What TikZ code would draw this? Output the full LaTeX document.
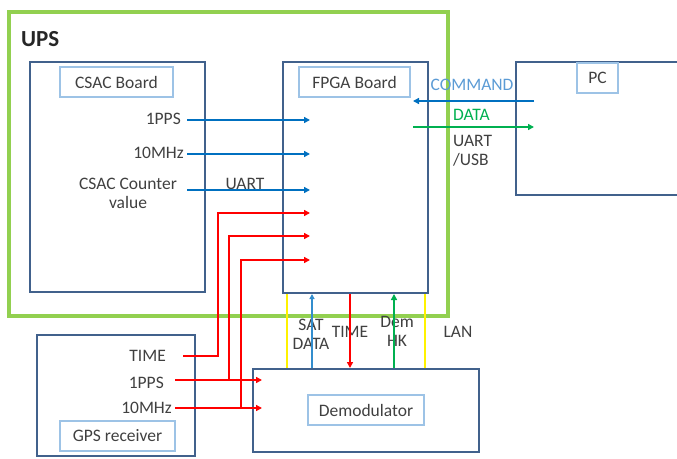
\documentclass[tikz,border=0pt]{standalone}
\usepackage{fontspec}
\setmainfont{Carlito}
\usetikzlibrary{arrows.meta}
\definecolor{boxblue}{HTML}{41618C}
\definecolor{labblue}{HTML}{9DC3E6}
\definecolor{sigblue}{HTML}{0070C0}
\definecolor{cmdblue}{HTML}{5B9BD5}
\definecolor{upsgreen}{HTML}{92D050}
\definecolor{siggreen}{HTML}{00B050}
\definecolor{txt}{HTML}{404040}
\tikzset{
  board/.style={draw=boxblue, line width=2.2pt, inner sep=0pt},
  lab/.style={draw=labblue, line width=1.3pt, minimum height=30pt, inner sep=0pt, text=txt, font=\fontsize{17.5}{18}\selectfont},
  sig/.style={text=txt, font=\fontsize{17.5}{19}\selectfont, inner sep=0pt},
  tip/.style={-{Triangle[length=6pt,width=6pt]}},
  bluearrow/.style={draw=sigblue, line width=2pt, tip},
  redarrow/.style={draw=red, line width=2.6pt, tip},
}
\begin{document}
\begin{tikzpicture}[x=1pt,y=-1pt]
\useasboundingbox (0,0) rectangle (677,458);
% UPS frame
\node[draw=upsgreen, line width=4pt, minimum width=439pt, minimum height=304pt, inner sep=0pt] (ups) at (228.5,164) {};
\node[anchor=west, inner sep=0pt, text=black!85, font=\fontsize{23}{24}\selectfont\bfseries] (upslab) at (21,39) {UPS};
% boards
\node[board, minimum width=175pt, minimum height=230pt] (csac) at (117.5,177) {};
\node[board, minimum width=145pt, minimum height=231pt] (fpga) at (355.5,177.5) {};
\node[board, minimum width=174pt, minimum height=133pt] (pc) at (603,128.5) {};
\node[board, minimum width=158pt, minimum height=121pt] (gps) at (116,395.5) {};
\node[board, minimum width=226pt, minimum height=83pt] (demod) at (366,410.5) {};
% label boxes
\node[lab, minimum width=113pt] (csaclab) at (116.5,82) {CSAC Board};
\node[lab, minimum width=111pt] (fpgalab) at (354.5,82) {FPGA Board};
\node[lab, minimum width=41pt] (pclab) at (597.5,78) {PC};
\node[lab, minimum width=115pt] (gpslab) at (117.5,436) {GPS receiver};
\node[lab, minimum width=116pt] (demodlab) at (366,410) {Demodulator};
% CSAC signal labels
\node[sig, anchor=east] (pps1) at (181,119) {1PPS};
\node[sig, anchor=east] (mhz1) at (184,153) {10MHz};
\node[sig, align=center] (cnt) at (128,193) {CSAC Counter\\value};
\node[sig] (uart1) at (245,184) {UART};
% GPS signal labels
\node[sig, anchor=east] (gtime) at (166,356) {TIME};
\node[sig, anchor=east] (gpps) at (164,383) {1PPS};
\node[sig, anchor=east] (gmhz) at (172,408) {10MHz};
% PC link labels
\node[sig, text=cmdblue] (cmd) at (472,85) {COMMAND};
\node[sig, text=siggreen, anchor=west] (datal) at (453,115) {DATA};
\node[sig, anchor=west, align=left] (uartusb) at (453,151) {UART\\/USB};
% vertical link labels
\node[sig, align=center] (satdata) at (311,334) {SAT\\DATA};
\node[sig] (timel) at (350,332) {TIME};
\node[sig, align=center] (demhk) at (397,331) {Dem\\HK};
\node[sig] (lan) at (458,332) {LAN};
% coordinates
\coordinate (a1s) at (187,120); \coordinate (a1e) at (310,120);
\coordinate (a2s) at (187,154); \coordinate (a2e) at (310,154);
\coordinate (a3s) at (187,190); \coordinate (a3e) at (310,190);
\coordinate (r1e) at (310,213); \coordinate (r2e) at (310,236); \coordinate (r3e) at (310,260);
\coordinate (tS) at (183,356);
\coordinate (pS) at (175,380); \coordinate (pE) at (262,380);
\coordinate (mS) at (175,408); \coordinate (mE) at (262,408);
\coordinate (cmdS) at (534,101); \coordinate (cmdE) at (413,101);
\coordinate (datS) at (413,127); \coordinate (datE) at (534,127);
% CSAC -> FPGA
\draw[bluearrow] (a1s) -- (a1e);
\draw[bluearrow] (a2s) -- (a2e);
\draw[bluearrow] (a3s) -- (a3e);
% GPS -> FPGA / Demod
\draw[redarrow] (tS) -- (218,356) -- (218,213) -- (r1e);
\draw[redarrow] (pS) -- (pE);
\draw[redarrow] (229,380) -- (229,236) -- (r2e);
\draw[redarrow] (mS) -- (mE);
\draw[redarrow] (241,408) -- (241,260) -- (r3e);
% FPGA <-> PC
\draw[draw=sigblue, line width=2.2pt, tip] (cmdS) -- (cmdE);
\draw[draw=siggreen, line width=2.2pt, tip] (datS) -- (datE);
% FPGA <-> Demod
\draw[draw=yellow, line width=2pt] (287,293) -- (287,369);
\draw[draw=sigblue!80, line width=1.5pt, -{Triangle[length=5pt,width=5pt]}] (312,369) -- (312,294);
\draw[redarrow] (350,294) -- (350,368);
\draw[draw=siggreen, line width=2pt, tip] (394,369) -- (394,294);
\draw[draw=yellow, line width=2pt] (425,293) -- (425,369);
% redraw box edges on top
\draw[draw=boxblue, line width=2.2pt] (253,369) -- (479,369);
\draw[draw=boxblue, line width=2.2pt] (283,293) -- (428,293);
\end{tikzpicture}
\end{document}
